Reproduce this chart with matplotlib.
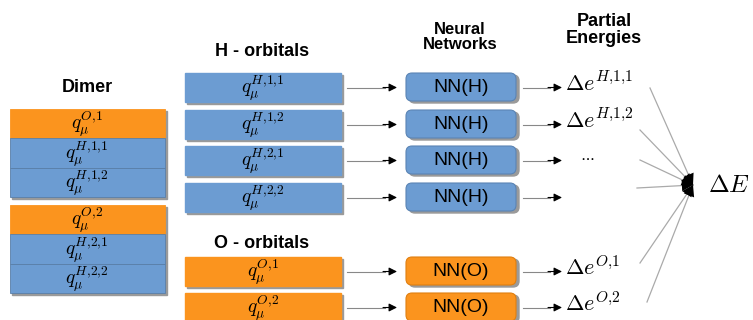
import matplotlib.pyplot as plt
from matplotlib.patches import Rectangle, FancyBboxPatch

plt.rcParams['mathtext.fontset'] = 'cm'
plt.rcParams['font.family'] = ['Liberation Sans', 'DejaVu Sans']

BLUE = '#6c9cd2'
ORANGE = '#fb941e'
SHADOW = '#9a9a9a'

dimer_labels = ['O,1', 'H,1,1', 'H,1,2', 'O,2', 'H,2,1', 'H,2,2']
dimer_kinds = ['O', 'H', 'H', 'O', 'H', 'H']
dimer_tops = [109, 138, 168, 205, 234, 264]

h_labels = ['H,1,1', 'H,1,2', 'H,2,1', 'H,2,2']
o_labels = ['O,1', 'O,2']
row_tops = [73, 110, 146, 183, 257, 293]
row_kinds = ['H', 'H', 'H', 'H', 'O', 'O']
energy_labels = ['H,1,1', 'H,1,2', '...', '', 'O,1', 'O,2']
fan_starts = [(650, 88), (640, 130), (640, 160), (637, 188), (640, 263), (647, 302)]
fan_end = (693, 185)

BOX_H = 29


def sup(lab):
    # tight commas like LaTeX superscripts
    return '{' + lab.replace(',', '{,}') + '}'


fig = plt.figure(figsize=(7.53, 3.2), dpi=100)
ax = fig.add_axes([0, 0, 1, 1])
ax.set_xlim(0, 753)
ax.set_ylim(320, 0)
ax.axis('off')


def color_of(kind):
    return ORANGE if kind == 'O' else BLUE


# Dimer column
ax.text(87, 88, 'Dimer', ha='center', va='center', fontsize=13, fontweight='bold')
for grp in (0, 3):
    top = dimer_tops[grp]
    ax.add_patch(Rectangle((12, top + 2), 155, 3 * BOX_H + 1, color=SHADOW, zorder=1))
for i, (lab, kind, top) in enumerate(zip(dimer_labels, dimer_kinds, dimer_tops)):
    h = 29 if i in (2, 5) else dimer_tops[i + 1] - top
    ax.add_patch(Rectangle((10, top), 155, h, facecolor=color_of(kind),
                           edgecolor='#5a7fa8' if kind == 'H' else ORANGE, lw=0.6, zorder=2))
    ax.text(87, top + h / 2 + 1, r'$q_\mu^%s$' % sup(lab), ha='center', va='center',
            fontsize=14, zorder=3)

# column titles
ax.text(262, 52, 'H - orbitals', ha='center', va='center', fontsize=13, fontweight='bold')
ax.text(262, 243, 'O - orbitals', ha='center', va='center', fontsize=13, fontweight='bold')
ax.text(460, 37, 'Neural\nNetworks', ha='center', va='center', fontsize=12,
        fontweight='bold', linespacing=1.05)
ax.text(604, 30, 'Partial\nEnergies', ha='center', va='center', fontsize=13,
        fontweight='bold', linespacing=1.0)

orb_labels = h_labels + o_labels
for lab, kind, top, elab in zip(orb_labels, row_kinds, row_tops, energy_labels):
    c = color_of(kind)
    yc = top + BOX_H / 2
    # orbital box
    ax.add_patch(Rectangle((187, top + 2), 156, BOX_H, color=SHADOW, zorder=1))
    ax.add_patch(Rectangle((185, top), 156, BOX_H, color=c, zorder=2))
    ax.text(263, yc + 1, r'$q_\mu^%s$' % sup(lab), ha='center', va='center', fontsize=14, zorder=3)
    # arrow to NN
    ax.plot([347, 385], [yc, yc], color='#888888', lw=0.8, zorder=2)
    ax.annotate('', xy=(397, yc), xytext=(383, yc),
                arrowprops=dict(arrowstyle='-|>', color='black', lw=0.8,
                                mutation_scale=12, shrinkA=0, shrinkB=0))
    # NN box
    ax.add_patch(FancyBboxPatch((409, top + 2), 110, BOX_H - 1, boxstyle='round,pad=0,rounding_size=6',
                                color=SHADOW, zorder=1))
    ax.add_patch(FancyBboxPatch((406, top), 110, BOX_H - 1, boxstyle='round,pad=0,rounding_size=6',
                                facecolor=c, edgecolor='#5b84b4' if kind == 'H' else '#e07f10',
                                lw=0.8, zorder=2))
    ax.text(461, yc, 'NN(%s)' % kind, ha='center', va='center', fontsize=14, zorder=3)
    # arrow to energy
    ax.plot([523, 550], [yc, yc], color='#888888', lw=0.8, zorder=2)
    ax.annotate('', xy=(562, yc), xytext=(548, yc),
                arrowprops=dict(arrowstyle='-|>', color='black', lw=0.8,
                                mutation_scale=12, shrinkA=0, shrinkB=0))
    if elab == '...':
        ax.text(580, yc - 3, r'$\cdots$', ha='left', va='center', fontsize=11)
    elif elab:
        ax.text(565, yc - 3, r'$\Delta e^%s$' % sup(elab), ha='left', va='center', fontsize=16)

# fan-in to total energy
for (x0, y0) in fan_starts:
    ax.plot([x0, fan_end[0]], [y0, fan_end[1]], color='#aaaaaa', lw=0.9, zorder=2)
    ax.annotate('', xy=fan_end, xytext=(x0, y0),
                arrowprops=dict(arrowstyle='-|>', color='black', lw=0,
                                mutation_scale=20, shrinkA=0, shrinkB=0), zorder=3)
ax.text(708, 185, r'$\Delta E$', ha='left', va='center', fontsize=18)

fig.savefig('out.png', dpi=100)
